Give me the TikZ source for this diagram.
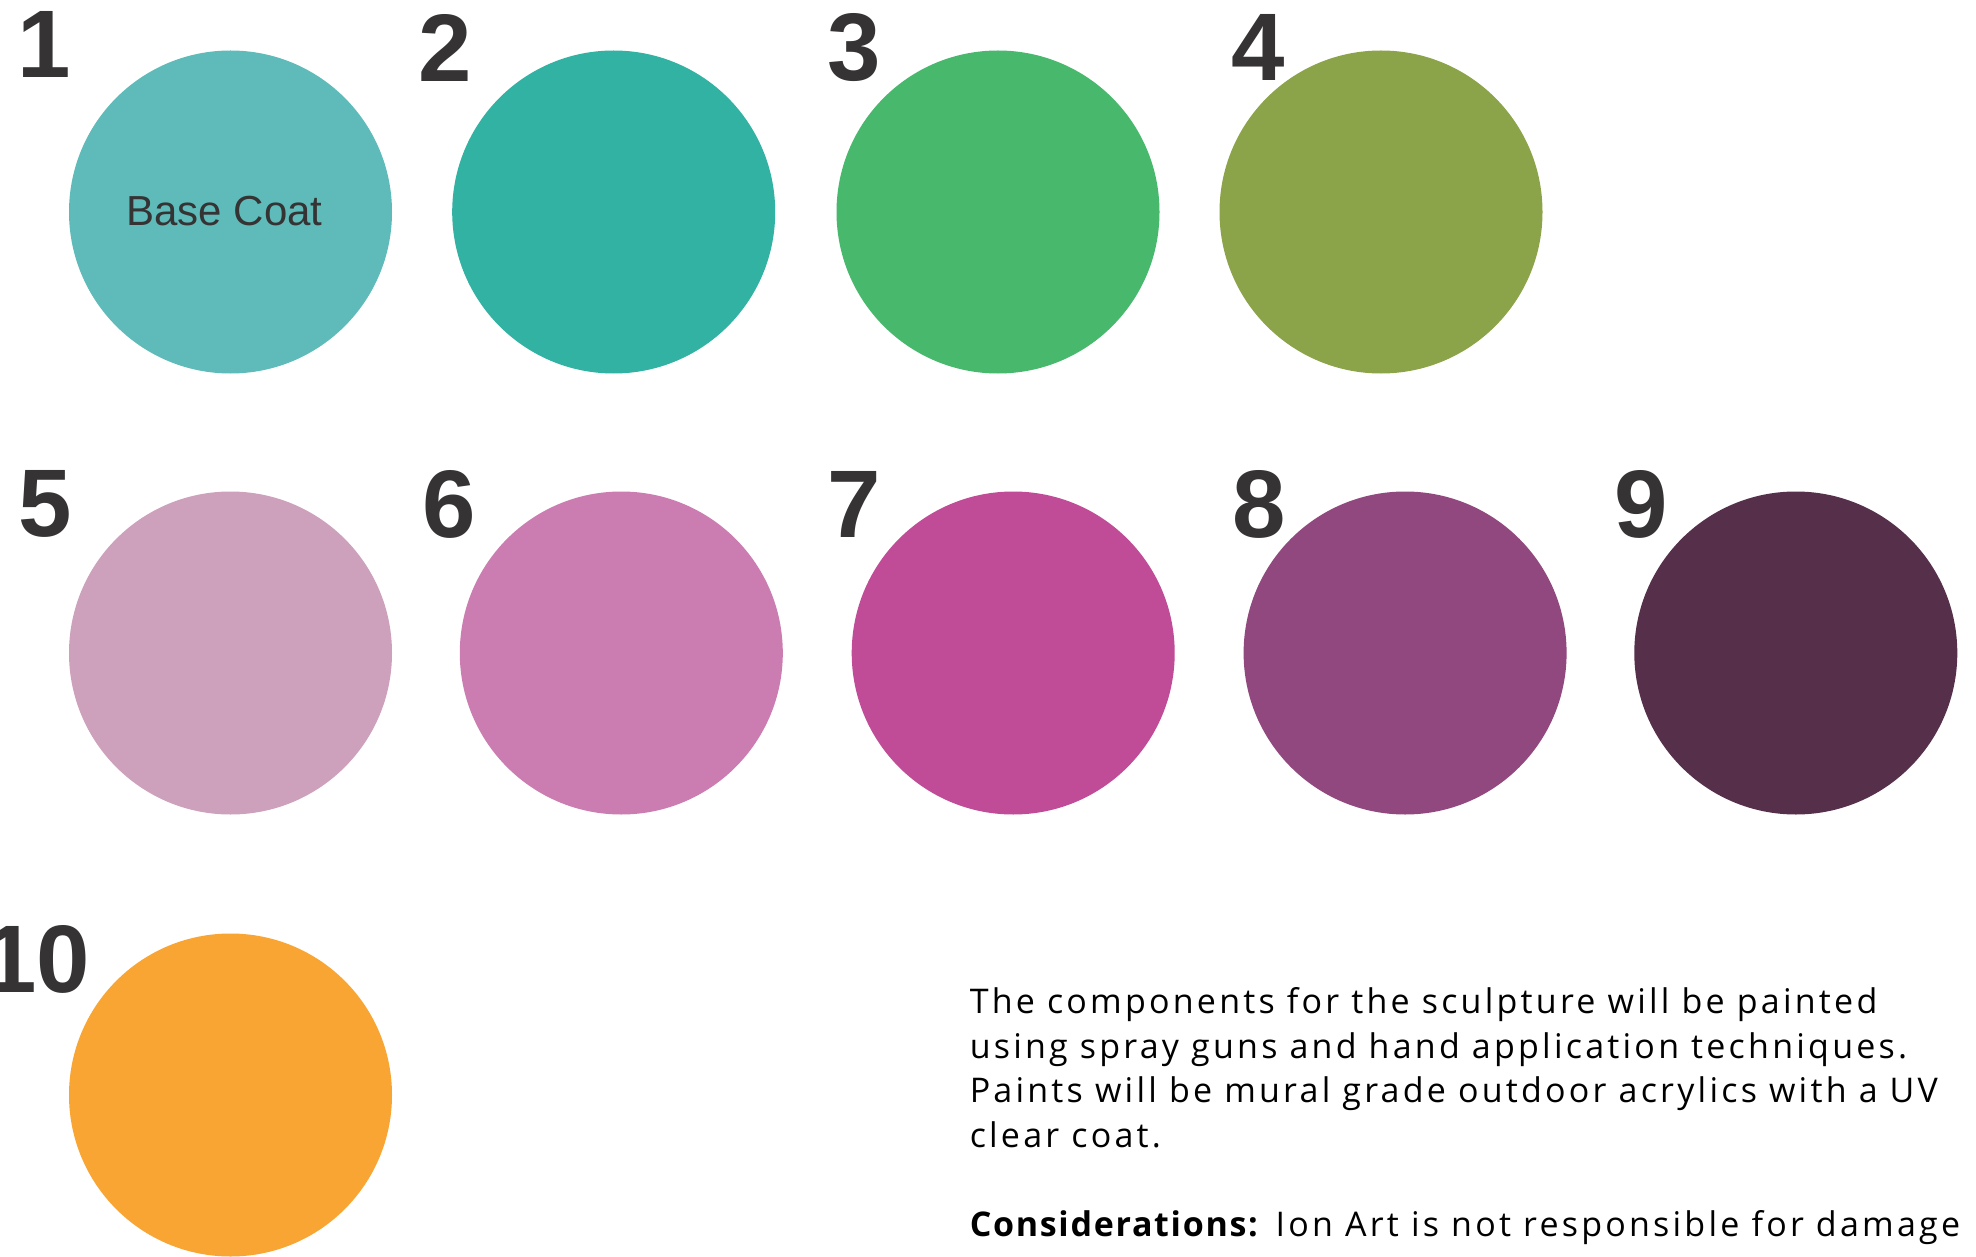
\documentclass[tikz,border=0pt]{standalone}
\usepackage{fontspec}
\setmainfont{Liberation Sans}
\newfontfamily\bodyfont[LetterSpace=9.5,BoldFeatures={LetterSpace=5}]{Open Sans}
\definecolor{numgray}{HTML}{353334}
\definecolor{paintA}{HTML}{5EBBB9}
\definecolor{paintB}{HTML}{31B2A3}
\definecolor{paintC}{HTML}{47B86C}
\definecolor{paintD}{HTML}{8BA349}
\definecolor{paintE}{HTML}{CDA0BB}
\definecolor{paintF}{HTML}{CB7DB2}
\definecolor{paintG}{HTML}{C04C98}
\definecolor{paintH}{HTML}{91487E}
\definecolor{paintI}{HTML}{562F4A}
\definecolor{paintJ}{HTML}{F9A533}
\tikzset{every picture/.style={line width=0.75pt},
  swatch/.style={circle,draw=none,minimum size=161.5pt,inner sep=0pt},
  swatchnum/.style={inner sep=0pt,text=numgray,font=\fontsize{48}{48}\selectfont\bfseries}}

\begin{document}
\begin{tikzpicture}[x=0.5pt,y=0.5pt,yscale=-1,xscale=1]
	\useasboundingbox (0,0) rectangle (1976,1257);
	\fill[white] (0,0) rectangle (1976,1257);
	
	% Swatches, first row
	\node [swatch,fill=paintA] (c1) at (230.5,212) {};
	\node [swatch,fill=paintB] (c2) at (613.7,212) {};
	\node [swatch,fill=paintC] (c3) at (998,212) {};
	\node [swatch,fill=paintD] (c4) at (1381,212) {};
	% Swatches, second row
	\node [swatch,fill=paintE] (c5) at (230.5,653) {};
	\node [swatch,fill=paintF] (c6) at (621.3,653) {};
	\node [swatch,fill=paintG] (c7) at (1013.2,653) {};
	\node [swatch,fill=paintH] (c8) at (1405.1,653) {};
	\node [swatch,fill=paintI] (c9) at (1795.8,653) {};
	% Swatch, third row
	\node [swatch,fill=paintJ] (c10) at (230.5,1095) {};
	
	% Text Node
	\node [inner sep=0pt,text=numgray,font=\fontsize{21}{21}\selectfont] (basecoat) at (224.5,211) {Base Coat};
	
	% Numbers
	\node [swatchnum] (n1) at (44,44.5) {1};
	\node [swatchnum] (n2) at (445.5,47.5) {2};
	\node [swatchnum] (n3) at (854,47.5) {3};
	\node [swatchnum] (n4) at (1258.5,47.5) {4};
	\node [swatchnum] (n5) at (45,504) {5};
	\node [swatchnum] (n6) at (449,504) {6};
	\node [swatchnum] (n7) at (854,504) {7};
	\node [swatchnum] (n8) at (1259,504) {8};
	\node [swatchnum] (n9) at (1641,504) {9};
	\node [swatchnum] (n10) at (36.5,959) {10};
	
	% Text Node
	\node [anchor=base west,inner sep=0pt,align=left,font=\bodyfont\fontsize{17}{22.25}\selectfont] (notes) at (969,1236)
	{The components for the sculpture will be painted\\
	using spray guns and hand application techniques.\\
	Paints will be mural grade outdoor acrylics with a UV\\
	clear coat.\\[22.25pt]
	\textbf{Considerations:} Ion Art is not responsible for damage};
	
\end{tikzpicture}
\end{document}
